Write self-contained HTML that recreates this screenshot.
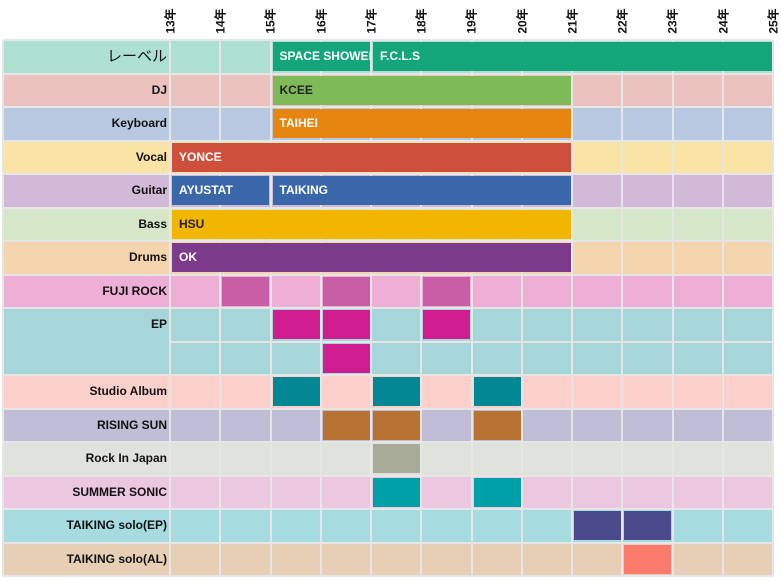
<!DOCTYPE html>
<html><head><meta charset="utf-8"><style>
body{margin:0;width:781px;height:581px;background:#fff;position:relative;overflow:hidden;font-family:"Liberation Sans","Noto Sans CJK JP",sans-serif;}
.r{position:absolute;left:3px;width:770px;}
.l{position:absolute;left:3px;width:164px;text-align:right;font-weight:bold;font-size:12px;color:#111;line-height:33px;}
.v{position:absolute;top:40px;height:536px;width:2px;background:#e6e6e6;}
.h{position:absolute;left:3px;width:770px;height:2px;background:#e6e6e6;}
.b{position:absolute;height:29px;font-weight:bold;font-size:12px;color:#fff;line-height:29px;padding-left:7px;box-sizing:border-box;white-space:nowrap;overflow:hidden;}
.t{position:absolute;top:21px;font-weight:bold;font-size:12px;color:#111;transform:translate(-50%,-50%) rotate(-90deg);white-space:nowrap;}
</style></head><body>
<div class="t" style="left:170px">13年</div><div class="t" style="left:220px">14年</div><div class="t" style="left:270px">15年</div><div class="t" style="left:321px">16年</div><div class="t" style="left:371px">17年</div><div class="t" style="left:421px">18年</div><div class="t" style="left:471px">19年</div><div class="t" style="left:522px">20年</div><div class="t" style="left:572px">21年</div><div class="t" style="left:622px">22年</div><div class="t" style="left:672px">23年</div><div class="t" style="left:723px">24年</div><div class="t" style="left:773px">25年</div>

<div class="r" style="top:40px;height:33.5px;background:#ade0d1"></div>
<div class="r" style="top:73.5px;height:33.5px;background:#ecc2bf"></div>
<div class="r" style="top:107px;height:33.5px;background:#b9c9e1"></div>
<div class="r" style="top:140.5px;height:33.5px;background:#f9e3a5"></div>
<div class="r" style="top:174px;height:33.5px;background:#d2b9d8"></div>
<div class="r" style="top:207.5px;height:33.5px;background:#d5e7c8"></div>
<div class="r" style="top:241px;height:33.5px;background:#f5d5ad"></div>
<div class="r" style="top:274.5px;height:33.5px;background:#eeaed6"></div>
<div class="r" style="top:308px;height:67px;background:#a7d6da"></div>
<div class="r" style="top:375px;height:33.5px;background:#fdd0cc"></div>
<div class="r" style="top:408.5px;height:33.5px;background:#c0bed6"></div>
<div class="r" style="top:442px;height:33.5px;background:#e0e2dc"></div>
<div class="r" style="top:475.5px;height:33.5px;background:#ebc8df"></div>
<div class="r" style="top:509px;height:33.5px;background:#a6dce0"></div>
<div class="r" style="top:542.5px;height:33.5px;background:#e6cfb5"></div>

<div class="h" style="top:39px"></div><div class="h" style="top:72.5px"></div><div class="h" style="top:106px"></div><div class="h" style="top:139.5px"></div><div class="h" style="top:173px"></div><div class="h" style="top:206.5px"></div><div class="h" style="top:240px"></div><div class="h" style="top:273.5px"></div><div class="h" style="top:307px"></div><div class="h" style="top:374px"></div><div class="h" style="top:407.5px"></div><div class="h" style="top:441px"></div><div class="h" style="top:474.5px"></div><div class="h" style="top:508px"></div><div class="h" style="top:541.5px"></div><div class="h" style="top:575px"></div>
<div class="h" style="top:341px;left:170px;width:603px"></div>
<div class="v" style="left:2px"></div><div class="v" style="left:169px"></div><div class="v" style="left:219px"></div><div class="v" style="left:269.5px"></div><div class="v" style="left:320px"></div><div class="v" style="left:370px"></div><div class="v" style="left:420px"></div><div class="v" style="left:470.5px"></div><div class="v" style="left:521px"></div><div class="v" style="left:571px"></div><div class="v" style="left:621px"></div><div class="v" style="left:671.5px"></div><div class="v" style="left:722px"></div><div class="v" style="left:772px"></div>

<div class="l" style="top:40px;font-size:15px;font-weight:normal">レーベル</div>
<div class="l" style="top:73.5px">DJ</div>
<div class="l" style="top:107px">Keyboard</div>
<div class="l" style="top:140.5px">Vocal</div>
<div class="l" style="top:174px">Guitar</div>
<div class="l" style="top:207.5px">Bass</div>
<div class="l" style="top:241px">Drums</div>
<div class="l" style="top:274.5px">FUJI ROCK</div>
<div class="l" style="top:308px">EP</div>
<div class="l" style="top:375px">Studio Album</div>
<div class="l" style="top:408.5px">RISING SUN</div>
<div class="l" style="top:442px">Rock In Japan</div>
<div class="l" style="top:475.5px">SUMMER SONIC</div>
<div class="l" style="top:509px">TAIKING solo(EP)</div>
<div class="l" style="top:542.5px">TAIKING solo(AL)</div>

<div class="b" style="left:272.5px;width:97px;top:42px;background:#13a67a">SPACE SHOWER</div>
<div class="b" style="left:373px;width:399px;top:42px;background:#13a67a">F.C.L.S</div>
<div class="b" style="left:272.5px;width:298px;top:75.5px;background:#7fba58;color:#222">KCEE</div>
<div class="b" style="left:272.5px;width:298px;top:109px;background:#e6850f">TAIHEI</div>
<div class="b" style="left:172px;width:398.5px;top:142.5px;background:#cd4f3c">YONCE</div>
<div class="b" style="left:172px;width:97px;top:176px;background:#3a67aa">AYUSTAT</div>
<div class="b" style="left:272.5px;width:298px;top:176px;background:#3a67aa">TAIKING</div>
<div class="b" style="left:172px;width:398.5px;top:209.5px;background:#f2b600;color:#222">HSU</div>
<div class="b" style="left:172px;width:398.5px;top:243px;background:#7b3a8a">OK</div>

<div class="b" style="left:222px;width:47px;top:276.5px;background:#c85fa6"></div>
<div class="b" style="left:322.5px;width:47px;top:276.5px;background:#c85fa6"></div>
<div class="b" style="left:423px;width:47px;top:276.5px;background:#c85fa6"></div>
<div class="b" style="left:272.5px;width:47px;top:310px;background:#cf1d8f"></div>
<div class="b" style="left:322.5px;width:47px;top:310px;background:#cf1d8f"></div>
<div class="b" style="left:423px;width:47px;top:310px;background:#cf1d8f"></div>
<div class="b" style="left:322.5px;width:47px;top:343.5px;background:#cf1d8f"></div>
<div class="b" style="left:272.5px;width:47px;top:377px;background:#028794"></div>
<div class="b" style="left:373px;width:47px;top:377px;background:#028794"></div>
<div class="b" style="left:473.5px;width:47px;top:377px;background:#028794"></div>
<div class="b" style="left:322.5px;width:47px;top:410.5px;background:#b87333"></div>
<div class="b" style="left:373px;width:47px;top:410.5px;background:#b87333"></div>
<div class="b" style="left:473.5px;width:47px;top:410.5px;background:#b87333"></div>
<div class="b" style="left:373px;width:47px;top:444px;background:#a8ab98"></div>
<div class="b" style="left:373px;width:47px;top:477.5px;background:#00a0a8"></div>
<div class="b" style="left:473.5px;width:47px;top:477.5px;background:#00a0a8"></div>
<div class="b" style="left:574px;width:47px;top:511px;background:#4a4a8c"></div>
<div class="b" style="left:624px;width:47px;top:511px;background:#4a4a8c"></div>
<div class="b" style="left:624px;width:47px;top:544.5px;background:#fa7a6c"></div>
</body></html>
